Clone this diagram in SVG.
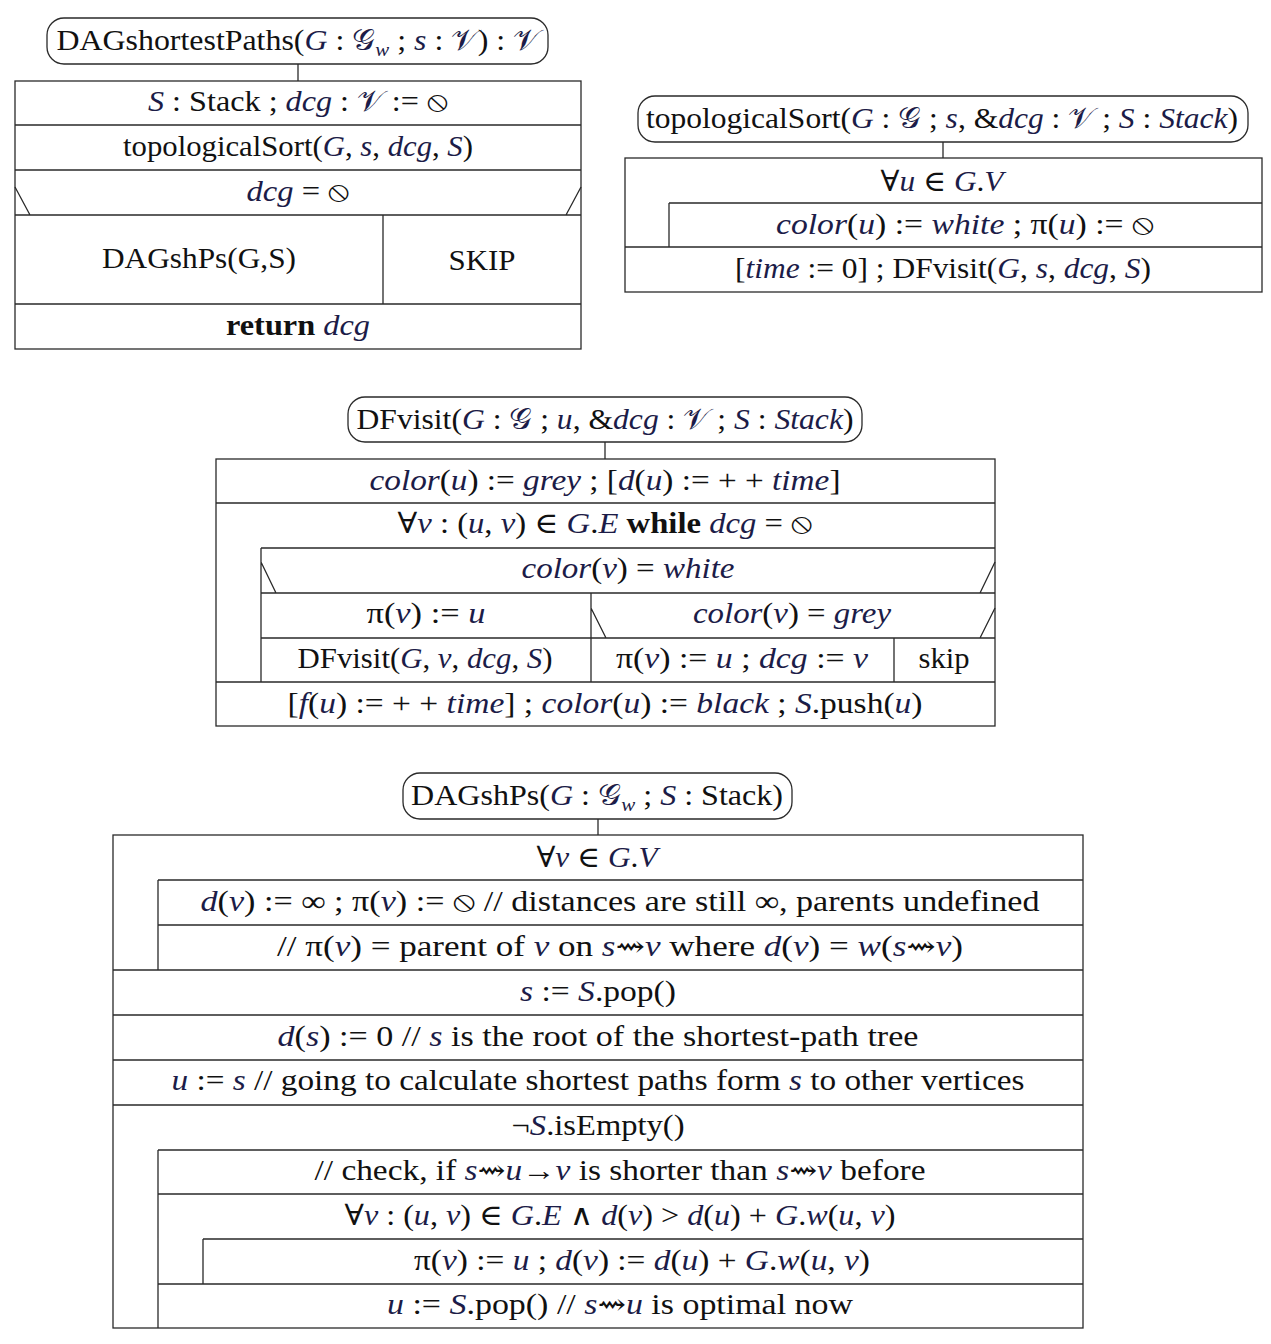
<svg xmlns="http://www.w3.org/2000/svg" width="1271" height="1344" viewBox="0 0 1271 1344">
<style>
.bg{fill:#fff}
.ln{fill:none;stroke:#2a2a2a;stroke-width:1.3}
.tt{fill:none;stroke:#2a2a2a;stroke-width:1.3}
.t{font-family:"Liberation Serif","DejaVu Serif","Noto Sans",serif;font-size:29px;fill:#111;text-anchor:middle}
.i{font-style:italic;fill:#1c1c48}
.c{font-style:normal;fill:#1c1c48}
.b{font-weight:bold}
.s{font-size:19px}
</style>
<rect class="bg" x="0" y="0" width="1271" height="1344"/>
<g id="connectors">
<line class="ln" x1="298" y1="64" x2="298" y2="81"/>
<line class="ln" x1="943" y1="142" x2="943" y2="158"/>
<line class="ln" x1="605" y1="442" x2="605" y2="459"/>
<line class="ln" x1="598" y1="819" x2="598" y2="835"/>
</g>
<g id="dagShortestPaths">
<g id="title1"><rect class="tt" x="47" y="18" width="501" height="46" rx="17"/>
<text class="t" x="298" y="50" textLength="483" lengthAdjust="spacingAndGlyphs">DAGshortestPaths(<tspan class="i">G</tspan> : <tspan class="c">𝒢</tspan><tspan class="i s" dy="6">w</tspan><tspan dy="-6"> ; </tspan><tspan class="i">s</tspan> : <tspan class="c">𝒱</tspan>) : <tspan class="c">𝒱</tspan></text></g>
<rect class="ln" x="15" y="81" width="566" height="268"/>
<path class="ln" d="M15 125H581M15 170H581M15 215H581M15 304H581M383 215V304M15 187L30 215M566 215L581 187"/>
<text class="t" x="298" y="111" textLength="300" lengthAdjust="spacingAndGlyphs"><tspan class="i">S</tspan> : Stack ; <tspan class="i">dcg</tspan> : <tspan class="c">𝒱</tspan> := ⦸</text>
<text class="t" x="298" y="156" textLength="350" lengthAdjust="spacingAndGlyphs">topologicalSort(<tspan class="i">G</tspan>, <tspan class="i">s</tspan>, <tspan class="i">dcg</tspan>, <tspan class="i">S</tspan>)</text>
<text class="t" x="298" y="201" textLength="103" lengthAdjust="spacingAndGlyphs"><tspan class="i">dcg</tspan> = ⦸</text>
<text class="t" x="199" y="268" textLength="194" lengthAdjust="spacingAndGlyphs">DAGshPs(G,S)</text>
<text class="t" x="482" y="270" textLength="67" lengthAdjust="spacingAndGlyphs">SKIP</text>
<text class="t" x="298" y="335" textLength="144" lengthAdjust="spacingAndGlyphs"><tspan class="b">return</tspan> <tspan class="i">dcg</tspan></text>
</g>
<g id="topologicalSort">
<g id="title2"><rect class="tt" x="638" y="96" width="610" height="46" rx="17"/>
<text class="t" x="942" y="128" textLength="592" lengthAdjust="spacingAndGlyphs">topologicalSort(<tspan class="i">G</tspan> : <tspan class="c">𝒢</tspan> ; <tspan class="i">s</tspan>, &amp;<tspan class="i">dcg</tspan> : <tspan class="c">𝒱</tspan> ; <tspan class="i">S</tspan> : <tspan class="i">Stack</tspan>)</text></g>
<rect class="ln" x="625" y="158" width="637" height="134"/>
<path class="ln" d="M669 203H1262M625 247H1262M669 203V247"/>
<text class="t" x="942" y="191" textLength="123" lengthAdjust="spacingAndGlyphs">∀<tspan class="i">u</tspan> ∈ <tspan class="i">G</tspan>.<tspan class="i">V</tspan></text>
<text class="t" x="965" y="234" textLength="378" lengthAdjust="spacingAndGlyphs"><tspan class="i">color</tspan>(<tspan class="i">u</tspan>) := <tspan class="i">white</tspan> ; π(<tspan class="i">u</tspan>) := ⦸</text>
<text class="t" x="943" y="278" textLength="416" lengthAdjust="spacingAndGlyphs">[<tspan class="i">time</tspan> := 0] ; DFvisit(<tspan class="i">G</tspan>, <tspan class="i">s</tspan>, <tspan class="i">dcg</tspan>, <tspan class="i">S</tspan>)</text>
</g>
<g id="dfVisit">
<g id="title3"><rect class="tt" x="348" y="397" width="514" height="45" rx="17"/>
<text class="t" x="605" y="429" textLength="497" lengthAdjust="spacingAndGlyphs">DFvisit(<tspan class="i">G</tspan> : <tspan class="c">𝒢</tspan> ; <tspan class="i">u</tspan>, &amp;<tspan class="i">dcg</tspan> : <tspan class="c">𝒱</tspan> ; <tspan class="i">S</tspan> : <tspan class="i">Stack</tspan>)</text></g>
<rect class="ln" x="216" y="459" width="779" height="267"/>
<path class="ln" d="M216 503H995M261 548H995M261 593H995M261 638H995M216 682H995M261 548V682M591 593V682M894 638V682M261 562L276 593M980 593L995 562M591 608L606 638M980 638L995 608"/>
<text class="t" x="605" y="490" textLength="471" lengthAdjust="spacingAndGlyphs"><tspan class="i">color</tspan>(<tspan class="i">u</tspan>) := <tspan class="i">grey</tspan> ; [<tspan class="i">d</tspan>(<tspan class="i">u</tspan>) := + + <tspan class="i">time</tspan>]</text>
<text class="t" x="605" y="533" textLength="415" lengthAdjust="spacingAndGlyphs">∀<tspan class="i">v</tspan> : (<tspan class="i">u</tspan>, <tspan class="i">v</tspan>) ∈ <tspan class="i">G</tspan>.<tspan class="i">E</tspan> <tspan class="b">while</tspan> <tspan class="i">dcg</tspan> = ⦸</text>
<text class="t" x="628" y="578" textLength="213" lengthAdjust="spacingAndGlyphs"><tspan class="i">color</tspan>(<tspan class="i">v</tspan>) = <tspan class="i">white</tspan></text>
<text class="t" x="426" y="623" textLength="119" lengthAdjust="spacingAndGlyphs">π(<tspan class="i">v</tspan>) := <tspan class="i">u</tspan></text>
<text class="t" x="792" y="623" textLength="198" lengthAdjust="spacingAndGlyphs"><tspan class="i">color</tspan>(<tspan class="i">v</tspan>) = <tspan class="i">grey</tspan></text>
<text class="t" x="425" y="668" textLength="255" lengthAdjust="spacingAndGlyphs">DFvisit(<tspan class="i">G</tspan>, <tspan class="i">v</tspan>, <tspan class="i">dcg</tspan>, <tspan class="i">S</tspan>)</text>
<text class="t" x="742" y="668" textLength="252" lengthAdjust="spacingAndGlyphs">π(<tspan class="i">v</tspan>) := <tspan class="i">u</tspan> ; <tspan class="i">dcg</tspan> := <tspan class="i">v</tspan></text>
<text class="t" x="944" y="668" textLength="51" lengthAdjust="spacingAndGlyphs">skip</text>
<text class="t" x="605" y="713" textLength="635" lengthAdjust="spacingAndGlyphs">[<tspan class="i">f</tspan>(<tspan class="i">u</tspan>) := + + <tspan class="i">time</tspan>] ; <tspan class="i">color</tspan>(<tspan class="i">u</tspan>) := <tspan class="i">black</tspan> ; <tspan class="i">S</tspan>.push(<tspan class="i">u</tspan>)</text>
</g>
<g id="dagShPs">
<g id="title4"><rect class="tt" x="403" y="773" width="389" height="46" rx="17"/>
<text class="t" x="597" y="805" textLength="372" lengthAdjust="spacingAndGlyphs">DAGshPs(<tspan class="i">G</tspan> : <tspan class="c">𝒢</tspan><tspan class="i s" dy="6">w</tspan><tspan dy="-6"> ; </tspan><tspan class="i">S</tspan> : Stack)</text></g>
<rect class="ln" x="113" y="835" width="970" height="493"/>
<path class="ln" d="M158 880H1083M158 925H1083M113 970H1083M113 1015H1083M113 1060H1083M113 1105H1083M158 1150H1083M158 1194H1083M203 1239H1083M158 1284H1083M158 880V970M158 1150V1328M203 1239V1284"/>
<text class="t" x="597" y="867" textLength="121" lengthAdjust="spacingAndGlyphs">∀<tspan class="i">v</tspan> ∈ <tspan class="i">G</tspan>.<tspan class="i">V</tspan></text>
<text class="t" x="620" y="911" textLength="839" lengthAdjust="spacingAndGlyphs"><tspan class="i">d</tspan>(<tspan class="i">v</tspan>) := ∞ ; π(<tspan class="i">v</tspan>) := ⦸ // distances are still ∞, parents undefined</text>
<text class="t" x="620" y="956" textLength="686" lengthAdjust="spacingAndGlyphs">// π(<tspan class="i">v</tspan>) = parent of <tspan class="i">v</tspan> on <tspan class="i">s</tspan>⇝<tspan class="i">v</tspan> where <tspan class="i">d</tspan>(<tspan class="i">v</tspan>) = <tspan class="i">w</tspan>(<tspan class="i">s</tspan>⇝<tspan class="i">v</tspan>)</text>
<text class="t" x="598" y="1001" textLength="156" lengthAdjust="spacingAndGlyphs"><tspan class="i">s</tspan> := <tspan class="i">S</tspan>.pop()</text>
<text class="t" x="598" y="1046" textLength="641" lengthAdjust="spacingAndGlyphs"><tspan class="i">d</tspan>(<tspan class="i">s</tspan>) := 0 // <tspan class="i">s</tspan> is the root of the shortest-path tree</text>
<text class="t" x="598" y="1090" textLength="853" lengthAdjust="spacingAndGlyphs"><tspan class="i">u</tspan> := <tspan class="i">s</tspan> // going to calculate shortest paths form <tspan class="i">s</tspan> to other vertices</text>
<text class="t" x="598" y="1135" textLength="173" lengthAdjust="spacingAndGlyphs">¬<tspan class="i">S</tspan>.isEmpty()</text>
<text class="t" x="620" y="1180" textLength="611" lengthAdjust="spacingAndGlyphs">// check, if <tspan class="i">s</tspan>⇝<tspan class="i">u</tspan>→<tspan class="i">v</tspan> is shorter than <tspan class="i">s</tspan>⇝<tspan class="i">v</tspan> before</text>
<text class="t" x="620" y="1225" textLength="551" lengthAdjust="spacingAndGlyphs">∀<tspan class="i">v</tspan> : (<tspan class="i">u</tspan>, <tspan class="i">v</tspan>) ∈ <tspan class="i">G</tspan>.<tspan class="i">E</tspan> ∧ <tspan class="i">d</tspan>(<tspan class="i">v</tspan>) &gt; <tspan class="i">d</tspan>(<tspan class="i">u</tspan>) + <tspan class="i">G</tspan>.<tspan class="i">w</tspan>(<tspan class="i">u</tspan>, <tspan class="i">v</tspan>)</text>
<text class="t" x="642" y="1270" textLength="456" lengthAdjust="spacingAndGlyphs">π(<tspan class="i">v</tspan>) := <tspan class="i">u</tspan> ; <tspan class="i">d</tspan>(<tspan class="i">v</tspan>) := <tspan class="i">d</tspan>(<tspan class="i">u</tspan>) + <tspan class="i">G</tspan>.<tspan class="i">w</tspan>(<tspan class="i">u</tspan>, <tspan class="i">v</tspan>)</text>
<text class="t" x="620" y="1314" textLength="466" lengthAdjust="spacingAndGlyphs"><tspan class="i">u</tspan> := <tspan class="i">S</tspan>.pop() // <tspan class="i">s</tspan>⇝<tspan class="i">u</tspan> is optimal now</text>
</g>
</svg>
